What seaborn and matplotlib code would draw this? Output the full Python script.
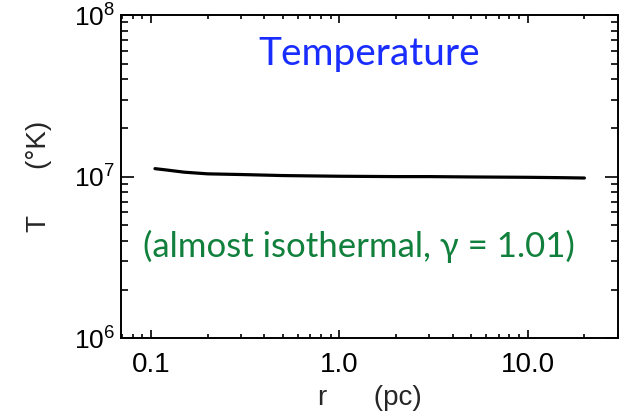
import matplotlib
matplotlib.use("Agg")
import matplotlib.pyplot as plt
import matplotlib.ticker as mticker
import numpy as np
import pandas as pd
import seaborn as sns

# Radial temperature profile
radius_pc = [0.105, 0.12, 0.15, 0.2, 0.3, 0.5, 0.7, 1.0, 2.0, 3.0, 5.0, 10.0, 15.0, 20.0]
temperature_K = [1.12e7, 1.10e7, 1.065e7, 1.04e7, 1.03e7, 1.015e7, 1.01e7,
                 1.005e7, 1.0e7, 1.0e7, 0.995e7, 0.99e7, 0.985e7, 0.98e7]

x_ticks = [0.1, 1.0, 10.0]
x_tick_labels = ["0.1", "1.0", "10.0"]
y_ticks = [1e6, 1e7, 1e8]
y_tick_labels = [r"$\mathregular{10^{6}}$", r"$\mathregular{10^{7}}$", r"$\mathregular{10^{8}}$"]

title_text = "Temperature"
note_text = "(almost isothermal, \u03b3 = 1.01)"

sns.set_theme(style="ticks")
plt.rcParams["font.family"] = ["Liberation Sans", "DejaVu Sans"]
plt.rcParams["mathtext.fontset"] = "custom"
plt.rcParams["mathtext.rm"] = "Liberation Sans"

df = pd.DataFrame({"r": radius_pc, "T": temperature_K})

fig = plt.figure(figsize=(6.25, 4.17), dpi=100)
ax = fig.add_axes([0.193, 0.189, 0.796, 0.775])

sns.lineplot(data=df, x="r", y="T", ax=ax, color="black", linewidth=2.3)

ax.set_xscale("log")
ax.set_yscale("log")
ax.set_xlim(0.069, 30.2)
ax.set_ylim(1e6, 1e8)

ax.xaxis.set_major_locator(mticker.FixedLocator(x_ticks))
ax.xaxis.set_major_formatter(mticker.FixedFormatter(x_tick_labels))
ax.xaxis.set_minor_locator(mticker.LogLocator(base=10, subs=np.arange(2, 10)))
ax.xaxis.set_minor_formatter(mticker.NullFormatter())
ax.yaxis.set_major_locator(mticker.FixedLocator(y_ticks))
ax.yaxis.set_major_formatter(mticker.FixedFormatter(y_tick_labels))
ax.yaxis.set_minor_locator(mticker.LogLocator(base=10, subs=np.arange(2, 10)))
ax.yaxis.set_minor_formatter(mticker.NullFormatter())

for side in ax.spines.values():
    side.set_linewidth(1.4)
    side.set_color("black")

ax.tick_params(axis="both", which="both", direction="in", top=True, right=True,
               colors="black", width=1.2)
ax.tick_params(axis="x", which="major", length=5.8, pad=10, labelsize=20)
ax.tick_params(axis="x", which="minor", length=2.9)
ax.tick_params(axis="y", which="major", length=9.4, pad=4, labelsize=19)
ax.tick_params(axis="y", which="minor", length=5)

ax.set_xlabel("r      (pc)", fontsize=20, labelpad=5)
ax.set_ylabel("T      (\u00b0K)", fontsize=20, labelpad=16)

ax.text(0.50, 0.88, title_text, transform=ax.transAxes, ha="center", va="center",
        fontsize=28, color="#1a2dff", family=["Lato", "DejaVu Sans"])
ax.text(0.48, 0.285, note_text, transform=ax.transAxes, ha="center", va="center",
        fontsize=25, color="#10803c", family=["Lato", "DejaVu Sans"])

fig.savefig("out.png", dpi=100)
